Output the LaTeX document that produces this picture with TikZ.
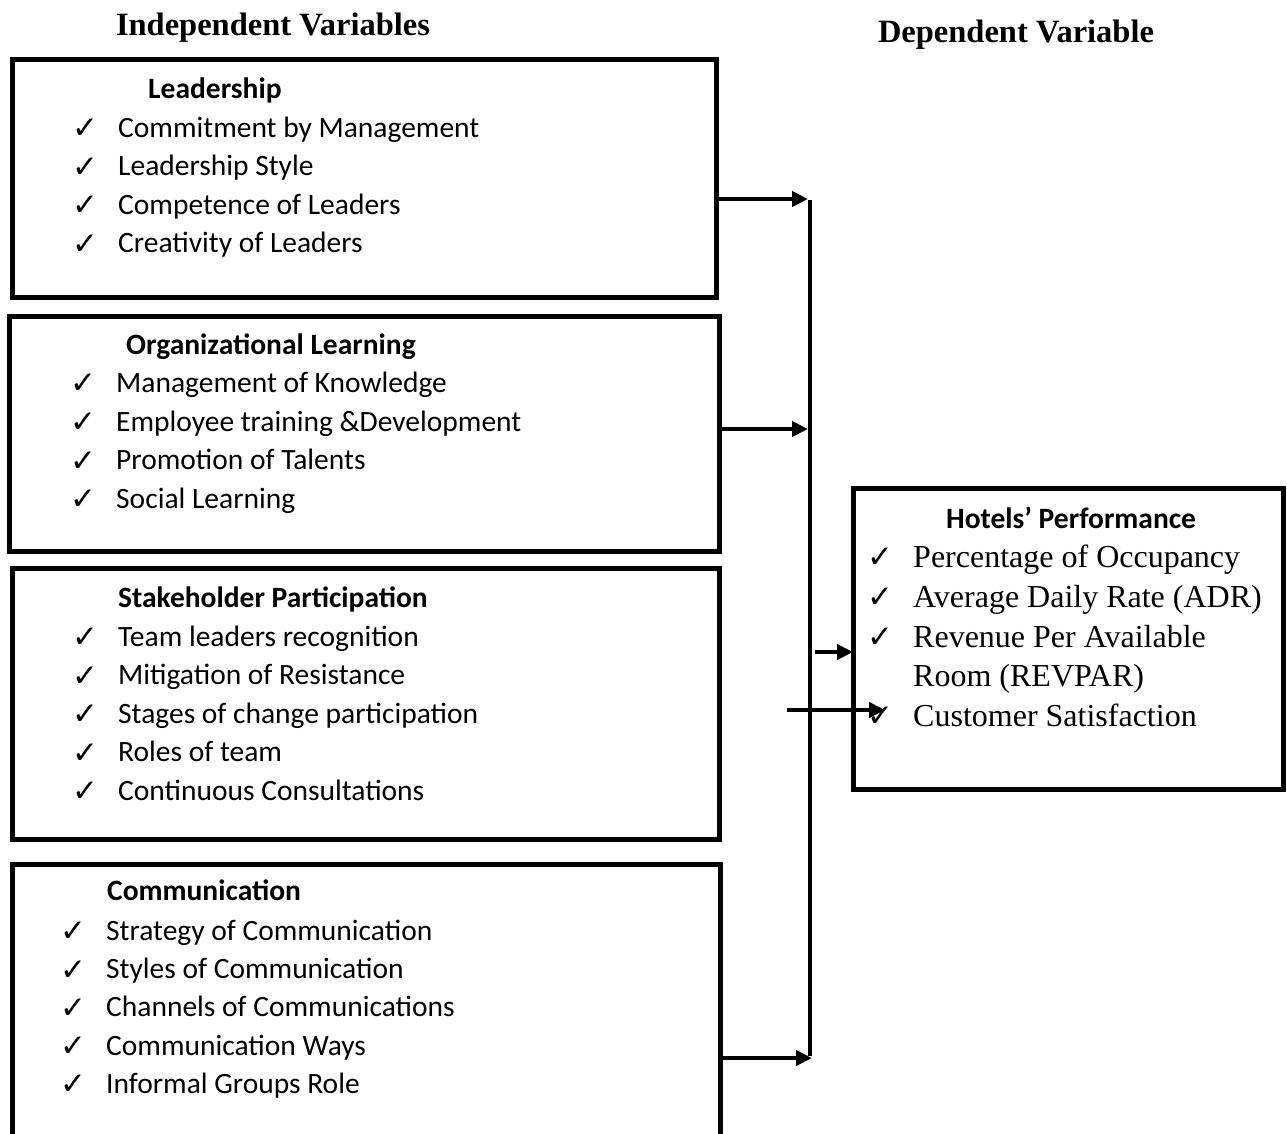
\documentclass[tikz,border=0pt]{standalone}
\usepackage{fontspec}
\setmainfont{Liberation Serif}
\newfontfamily\calfont{Carlito}
\newfontfamily\chkfont{DejaVu Sans Bold}
\usetikzlibrary{arrows.meta}
\newcommand{\ck}{{\chkfont\fontsize{31}{31}\selectfont ✓}}
\begin{document}
\begin{tikzpicture}[x=1pt,y=-1pt,
  box/.style={draw, line width=5pt, inner sep=0pt, outer sep=0pt},
  conn/.style={line width=4pt, -{Triangle[length=16pt,width=15pt]}},
  bus/.style={line width=4pt},
  item/.style={anchor=mid west, inner sep=0pt, font=\calfont\fontsize{29.5}{36}\selectfont},
  head/.style={anchor=mid west, inner sep=0pt, font=\calfont\bfseries\fontsize{29.5}{34}\selectfont},
  hitem/.style={anchor=mid west, inner sep=0pt, font=\fontsize{32}{38}\selectfont},
  tick/.style={anchor=west, inner sep=0pt},
  title/.style={inner sep=0pt, font=\bfseries\fontsize{32.5}{38}\selectfont}]
\useasboundingbox (0,0) rectangle (1287,1133);
\clip (0,0) rectangle (1287,1133);
% titles
\node[title] (tind) at (273,28) {Independent Variables};
\node[title] (tdep) at (1016,35) {Dependent Variable};
% boxes
\node[box, minimum width=704pt, minimum height=238pt] (lead) at (364,178) {};
\node[box, minimum width=710pt, minimum height=235pt] (org) at (364,433.5) {};
\node[box, minimum width=707pt, minimum height=271pt] (stake) at (365.5,703.5) {};
\node[box, minimum width=430pt, minimum height=301pt] (hotel) at (1068,638.5) {};
\draw[line width=5pt] (12,1160) -- (12,864) -- (720,864) -- (720,1160);
\coordinate (comm) at (720,1058);
% Leadership
\node[head] (h1) at (148,96) {Leadership};
\foreach \t [count=\i] in {Commitment by Management, Leadership Style, Competence of Leaders, Creativity of Leaders}{
  \node[tick] (c1\i) at (72,{129+(\i-1)*38.5}) {\ck};
  \node[item] (i1\i) at (118,{135+(\i-1)*38.5}) {\t};
}
% Organizational Learning
\node[head] (h2) at (126,352) {Organizational Learning};
\foreach \t [count=\i] in {Management of Knowledge, Employee training \&Development, Promotion of Talents, Social Learning}{
  \node[tick] (c2\i) at (70,{384+(\i-1)*38.7}) {\ck};
  \node[item] (i2\i) at (116,{390+(\i-1)*38.7}) {\t};
}
% Stakeholder Participation
\node[head] (h3) at (118,605) {Stakeholder Participation};
\foreach \t [count=\i] in {Team leaders recognition, Mitigation of Resistance, Stages of change participation, Roles of team, Continuous Consultations}{
  \node[tick] (c3\i) at (72,{638+(\i-1)*38.5}) {\ck};
  \node[item] (i3\i) at (118,{644+(\i-1)*38.5}) {\t};
}
% Communication
\node[head] (h4) at (107,898) {Communication};
\foreach \t [count=\i] in {Strategy of Communication, Styles of Communication, Channels of Communications, Communication Ways, Informal Groups Role}{
  \node[tick] (c4\i) at (60,{932+(\i-1)*38.3}) {\ck};
  \node[item] (i4\i) at (106,{938+(\i-1)*38.3}) {\t};
}
% Hotels' Performance
\node[head] (h5) at (946,526) {Hotels’ Performance};
\draw[conn] (787,710) coordinate (cross) -- (885,710) coordinate (crossend);
\node[tick] (c51) at (867,558) {\ck};
\node[hitem] (i51) at (913,565) {Percentage of Occupancy};
\node[tick] (c52) at (867,598) {\ck};
\node[hitem] (i52) at (913,605) {Average Daily Rate (ADR)};
\node[tick] (c53) at (867,638) {\ck};
\node[hitem] (i53) at (913,645) {Revenue Per Available};
\node[hitem] (i54) at (913,684) {Room (REVPAR)};
\node[tick] (c55) at (867,717) {\ck};
\node[hitem] (i55) at (913,724) {Customer Satisfaction};
% connectors
\coordinate (btop) at (810,199);
\coordinate (bbot) at (810,1058);
\coordinate (bmid) at (810,429);
\coordinate (hin) at (815,652);
\draw[conn] (lead.east |- btop) -- ([xshift=-2pt]btop);
\draw[conn] (org.east |- bmid) -- ([xshift=-2pt]bmid);
\draw[conn] (comm) -- ([xshift=2pt]bbot);
\draw[bus] ([yshift=-1pt]btop) -- ([yshift=2pt]bbot);
\draw[conn] (hin) -- (hotel.west |- hin);
\end{tikzpicture}
\end{document}
